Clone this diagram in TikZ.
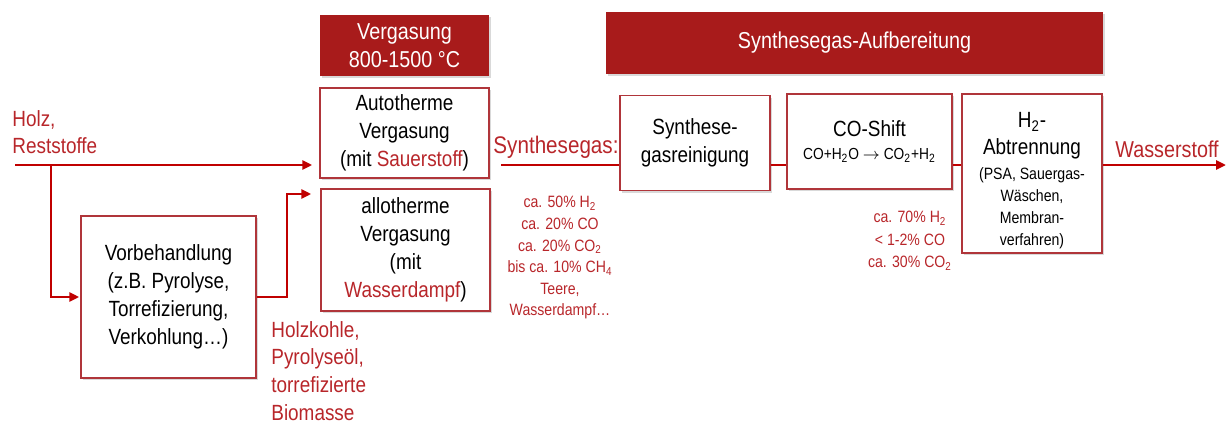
\documentclass[tikz,border=0pt]{standalone}
\usepackage{fontspec}
\setmainfont{Liberation Sans}[FakeStretch=0.86]
\usepackage{tikz}
\usetikzlibrary{arrows.meta,calc,positioning,shadows}
\definecolor{Crimson}{HTML}{A81B1B}
\definecolor{Flow}{HTML}{C00000}
\definecolor{Label}{HTML}{B8262A}
\definecolor{Frame}{HTML}{B0353A}
\newcommand{\Rd}[1]{{\color{Label}#1}}
\newcommand{\Lg}{\fontsize{11}{14}\selectfont}

\begin{document}
\begin{tikzpicture}[x=0.5pt,y=-0.5pt,
  stage/.style={draw=Frame,line width=.75pt,fill=white,align=center,inner sep=1pt,
    font=\fontsize{11}{14}\selectfont,
    drop shadow={shadow xshift=1pt,shadow yshift=-1.2pt,opacity=.3}},
  head/.style={fill=Crimson,text=white,align=center,inner sep=1pt,
    font=\fontsize{11.5}{14}\selectfont,
    drop shadow={shadow xshift=1pt,shadow yshift=-1.2pt,opacity=.3}},
  flow/.style={draw=Flow,line width=1.25pt},
  feed/.style={flow,-{Triangle[length=5pt,width=4.5pt]}},
  tag/.style={text=Label,inner sep=0pt,font=\fontsize{11}{13.8}\selectfont},
  share/.style={text=Label,inner sep=0pt,align=center,font=\fontsize{8.2}{10.8}\selectfont}]
  \useasboundingbox (0,0) rectangle (1227,428);
  % Vergasung
  \node[head,minimum width=84.5pt,minimum height=30.5pt] (verg) at (404.5,45.5) {Vergasung\\800-1500 °C};
  \node[stage,minimum width=84.5pt,minimum height=45pt] (auto) at (404.5,133) {Autotherme\\Vergasung\\(mit \Rd{Sauerstoff})};
  \node[stage,minimum width=84.5pt,minimum height=61pt] (allo) at (405.5,250) {allotherme\\Vergasung\\(mit\\\Rd{Wasserdampf})};
  \node[stage,minimum width=87.5pt,minimum height=81pt] (vorb) at (168.5,297) {Vorbehandlung\\(z.B. Pyrolyse,\\Torrefizierung,\\Verkohlung…)};
  % Aufbereitung
  \node[head,minimum width=248.5pt,minimum height=31pt] (aufb) at (854.5,43) {Synthesegas-Aufbereitung};
  \node[stage,minimum width=75pt,minimum height=47.5pt] (rein) at (695,143) {Synthese-\\gasreinigung};
  \node[stage,minimum width=82.5pt,minimum height=47.5pt,font=\fontsize{8}{11.5}\selectfont] (shift) at (869.5,141.5) {\Lg CO-Shift\\CO+H\textsubscript{2}O $\rightarrow$ CO\textsubscript{2}+H\textsubscript{2}};
  \node[stage,minimum width=70pt,minimum height=79.5pt,font=\fontsize{8.2}{11}\selectfont] (abtr) at (1032,173.5) {\Lg\rule{0pt}{15pt}H\textsubscript{2}-\\[2.5pt]\Lg Abtrennung\\[1.5pt](PSA, Sauergas-\\Wäschen,\\Membran-\\verfahren)};
  % labels
  \node[tag,anchor=north west,align=left] (feedtxt) at (12,110) {Holz,\\Reststoffe};
  \node[tag,anchor=north west,align=left] (coal) at (271,321) {Holzkohle,\\Pyrolyseöl,\\torrefizierte\\Biomasse};
  \node[tag,anchor=base,font=\fontsize{12}{14}\selectfont] (sgas) at (556,153) {Synthesegas:};
  \node[tag,anchor=base,font=\fontsize{11.5}{14}\selectfont] (htwo) at (1167,157) {Wasserstoff};
  \node[share,anchor=north] (gasmix) at (560,196) {ca. 50\% H\textsubscript{2}\\ca. 20\% CO\\ca. 20\% CO\textsubscript{2}\\bis ca. 10\% CH\textsubscript{4}\\Teere,\\Wasserdampf…};
  \node[share,anchor=north,font=\fontsize{8.2}{11.2}\selectfont] (shiftmix) at (910,211) {ca. 70\% H\textsubscript{2}\\< 1-2\% CO\\ca. 30\% CO\textsubscript{2}};
  % flows
  \coordinate (src) at (15,165);
  \coordinate (split) at (51,165);
  \coordinate (rise) at (287,194);
  \coordinate (sg) at (501,165);
  \coordinate (sink) at (1226,165);
  \draw[feed] (src) -- ([xshift=-3.5pt]auto.west |- src);
  \draw[feed] (split) |- ([xshift=-0.5pt]vorb.west);
  \draw[feed] (vorb.east) -| (rise) -- ([xshift=-4.5pt]allo.west |- rise);
  \draw[flow] (sg) -- (rein.west |- sg);
  \draw[flow] (rein.east |- sg) -- (shift.west |- sg);
  \draw[flow] (shift.east |- sg) -- (abtr.west |- sg);
  \draw[feed] (abtr.east |- sg) -- (sink);
\end{tikzpicture}
\end{document}
